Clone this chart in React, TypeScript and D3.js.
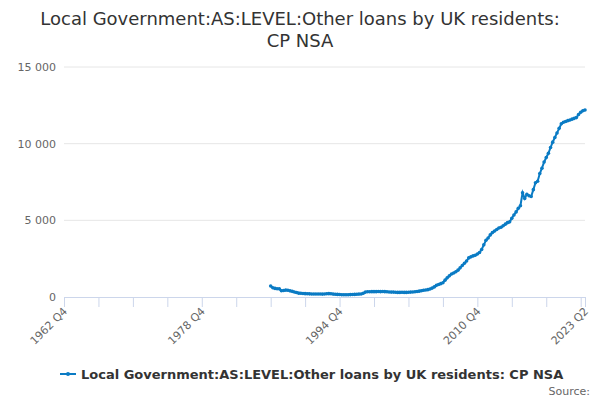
import * as d3 from "d3";
import React from "react";

// quarterly series, first point 1986 Q4
const startYear = 1986;
const startQ = 4;
const values: number[] = [
  720,
  600, 560, 540, 530,
  410, 420, 450, 440,
  400, 370, 330, 290,
  250, 240, 230, 220,
  210, 205, 200, 200,
  200, 195, 195, 190,
  200, 210, 220, 210,
  190, 180, 170, 160,
  150, 150, 145, 150,
  155, 160, 170, 180,
  190, 200, 240, 320,
  340, 345, 350, 350,
  350, 355, 350, 355,
  350, 340, 330, 320,
  320, 310, 300, 300,
  310, 300, 300, 310,
  320, 330, 340, 360,
  380, 410, 440, 460,
  480, 520, 580, 660,
  760, 820, 870, 930,
  1100, 1250, 1380, 1500,
  1570, 1650, 1750, 1900,
  2050, 2200, 2350, 2550,
  2620, 2680, 2720, 2800,
  2900, 3100, 3400, 3700,
  3850, 4050, 4200, 4300,
  4400, 4500, 4550, 4650,
  4750, 4850, 4900, 5130,
  5350, 5550, 5780, 5950,
  6800, 6430, 6700, 6600,
  6550, 7000, 7450, 7550,
  8050, 8400, 8800, 9100,
  9370, 9750, 10100, 10400,
  10700, 11000, 11300, 11400,
  11450, 11500, 11540, 11600,
  11650, 11700, 11900, 12050,
  12150, 12200,
];

const axisStartYear = 1962;
const axisStartQ = 4;
const axisEndYear = 2023;
const axisEndQ = 2;
const yTicks = [0, 5000, 10000, 15000];
const labelEvery = 4;

const title1 = "Local Government:AS:LEVEL:Other loans by UK residents:";
const title2 = "CP NSA";
const seriesName = "Local Government:AS:LEVEL:Other loans by UK residents: CP NSA";

const qIndex = (y: number, q: number) => (y - axisStartYear) * 4 + (q - axisStartQ);
const qLabel = (i: number) => {
  const t = i + axisStartQ - 1;
  return `${axisStartYear + Math.floor(t / 4)} Q${(t % 4) + 1}`;
};

const App: React.FC = () => {
  const width = 600;
  const height = 400;
  const font = "'DejaVu Sans', sans-serif";
  const color = "#0a7bc4";

  const endIdx = qIndex(axisEndYear, axisEndQ);
  const x = d3.scaleLinear().domain([0, endIdx]).range([64, 585]);
  const y = d3.scaleLinear().domain([0, 15000]).range([297, 67]);

  const first = qIndex(startYear, startQ);
  const pts: [number, number][] = values.map((v, i) => [first + i, v]);
  const line = d3.line<[number, number]>().x(d => x(d[0])).y(d => y(d[1]));

  const tickIdx = d3.range(0, endIdx, 16).concat([endIdx]);
  const labelIdx = tickIdx.filter((t, i) => i % labelEvery === 0 || t === endIdx);
  const fmt = (v: number) => d3.format(",")(v).replace(/,/g, " ");

  return (
    <svg width={width} height={height} style={{ position: "absolute", left: 0, top: 0, background: "white" }} fontFamily={font}>
      <text x={300} y={25} textAnchor="middle" fontSize={18} fill="#333">{title1}</text>
      <text x={300} y={47} textAnchor="middle" fontSize={18} fill="#333">{title2}</text>

      {yTicks.map(t => (
        <g key={t}>
          {t > 0 && <line x1={64} x2={585} y1={y(t)} y2={y(t)} stroke="#e6e6e6" />}
          <text x={56} y={y(t) + 4} textAnchor="end" fontSize={11} fill="#666">{fmt(t)}</text>
        </g>
      ))}

      <line x1={64} x2={585} y1={297.5} y2={297.5} stroke="#ccd6eb" />
      {tickIdx.map(t => (
        <line key={t} x1={x(t) + 0.5} x2={x(t) + 0.5} y1={297} y2={307} stroke="#ccd6eb" />
      ))}
      {labelIdx.map(t => (
        <text key={t} transform={`translate(${x(t) + 4},${312}) rotate(-45)`} textAnchor="end" fontSize={11} fill="#666">
          {qLabel(t)}
        </text>
      ))}

      <path d={line(pts)!} fill="none" stroke={color} strokeWidth={2} />
      {pts.map(p => (
        <circle key={p[0]} cx={x(p[0])} cy={y(p[1])} r={1.8} fill={color} />
      ))}

      <line x1={60} x2={76} y1={374} y2={374} stroke={color} strokeWidth={2} />
      <circle cx={68} cy={374} r={2} fill={color} />
      <text x={81} y={379} fontSize={13} fontWeight="bold" fill="#333">{seriesName}</text>
      <text x={590} y={395} textAnchor="end" fontSize={11} fill="#666">Source:</text>
    </svg>
  );
};

export default App;
